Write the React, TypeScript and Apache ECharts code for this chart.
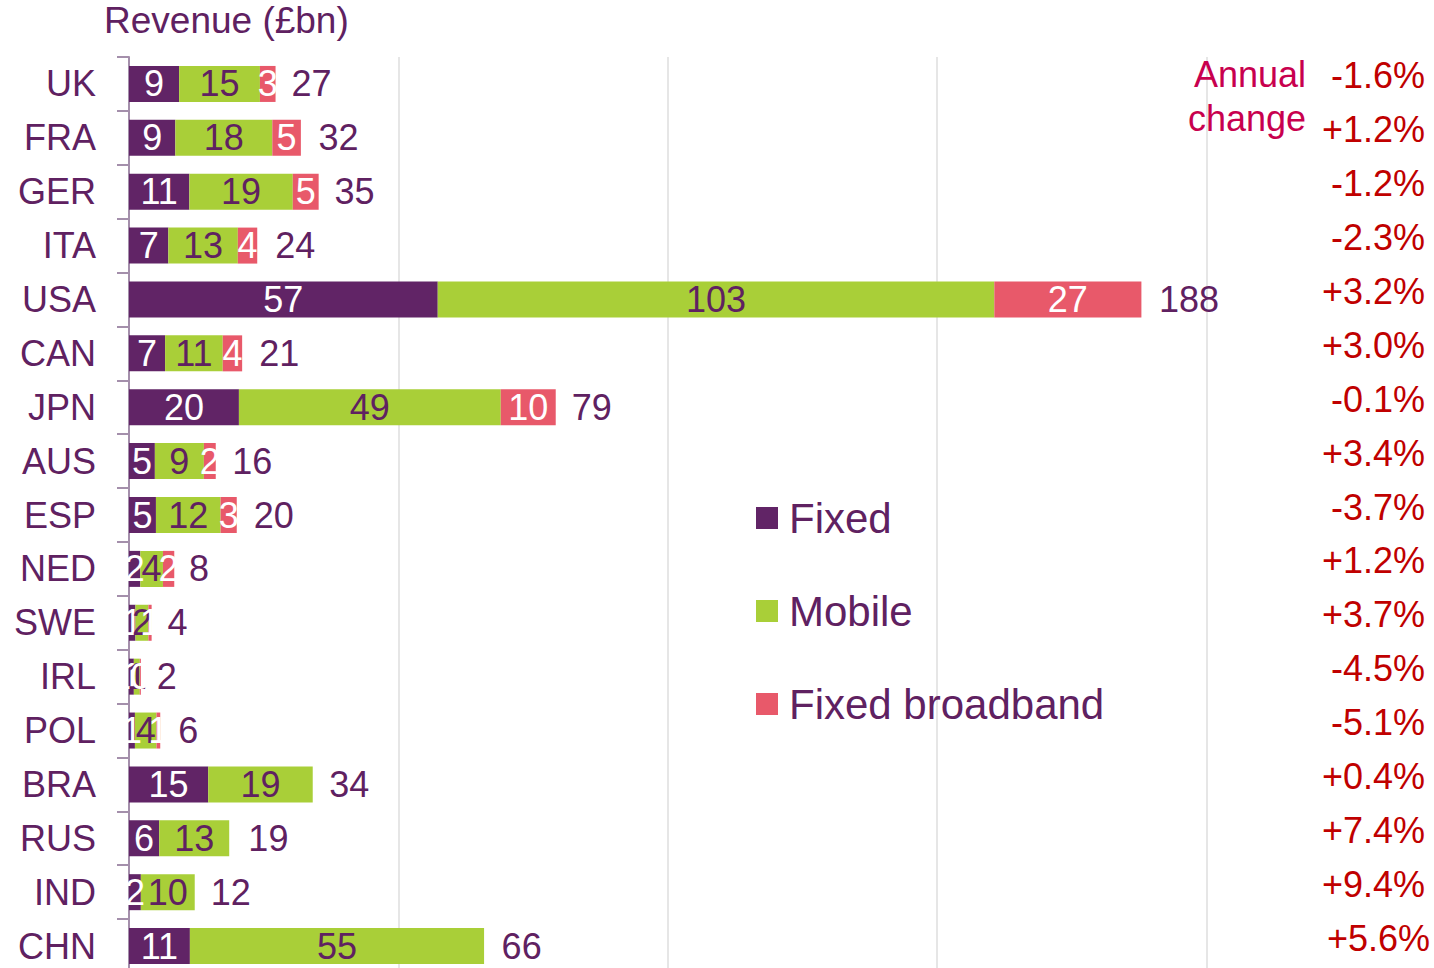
import React, { useEffect, useRef } from "react";
import * as echarts from "echarts";

const countries = ["UK", "FRA", "GER", "ITA", "USA", "CAN", "JPN", "AUS", "ESP", "NED", "SWE", "IRL", "POL", "BRA", "RUS", "IND", "CHN"];
const fixed = [9.3, 8.6, 11.2, 7.3, 57.3, 6.7, 20.4, 4.8, 5.0, 2.1, 1.2, 0.9, 1.1, 14.7, 5.6, 2.2, 11.3];
const mobile = [15.0, 18.0, 19.2, 12.9, 103.3, 10.7, 48.6, 9.1, 12.0, 4.2, 2.4, 1.1, 4.0, 19.4, 13.0, 10.0, 54.6];
const broadband = [2.9, 5.3, 4.8, 3.6, 27.3, 3.6, 10.2, 2.2, 3.0, 2.1, 0.6, 0.2, 0.7, 0, 0, 0, 0];
const totals = [27, 32, 35, 24, 188, 21, 79, 16, 20, 8, 4, 2, 6, 34, 19, 12, 66];
const annualChange = ["-1.6%", "+1.2%", "-1.2%", "-2.3%", "+3.2%", "+3.0%", "-0.1%", "+3.4%", "-3.7%", "+1.2%", "+3.7%", "-4.5%", "-5.1%", "+0.4%", "+7.4%", "+9.4%", "+5.6%"];

const FONT = "'Liberation Sans', Arial, sans-serif";
const PURPLE = "#612466";
const TEXT_PURPLE = "#5f2161";
const GREEN = "#a9cf38";
const CORAL = "#e8596a";
const RED = "#c00000";

export default function App() {
  const ref = useRef<HTMLDivElement>(null);
  useEffect(() => {
    document.body.style.margin = "0";
    const chart = echarts.init(ref.current!, null, { renderer: "svg" });
    const segLabel = (color: string) => ({
      show: true,
      position: "inside",
      fontSize: 36,
      fontFamily: FONT,
      color,
      formatter: (p: any) => (p.value ? String(Math.round(p.value)) : ""),
    });
    chart.setOption({
      animation: false,
      textStyle: { fontFamily: FONT },
      title: {
        text: "Revenue (£bn)",
        left: 99,
        top: -3,
        textStyle: { fontSize: 37, fontWeight: "normal", color: TEXT_PURPLE, fontFamily: FONT },
      },
      legend: {
        data: ["Fixed", "Mobile", "Fixed broadband"],
        orient: "vertical",
        left: 751,
        top: 492,
        itemWidth: 22,
        itemHeight: 22,
        itemGap: 51,
        icon: "rect",
        textStyle: { fontSize: 42, color: TEXT_PURPLE, fontFamily: FONT, lineHeight: 42, padding: [0, 0, 0, 6] },
      },
      grid: { left: 129, top: 57, width: 1347, height: 916, outerBoundsMode: "none", containLabel: false },
      xAxis: {
        type: "value",
        min: 0,
        max: 250,
        interval: 50,
        axisLabel: { show: false },
        axisLine: { show: false },
        axisTick: { show: false },
        splitLine: { show: true, lineStyle: { color: "#dedede", width: 1.5 } },
      },
      yAxis: [
        {
          type: "category",
          data: countries,
          inverse: true,
          axisLine: { show: true, lineStyle: { color: "#a48fab", width: 2 } },
          axisTick: { show: true, length: 12, lineStyle: { color: "#a48fab", width: 2 } },
          axisLabel: { fontSize: 36, color: TEXT_PURPLE, fontFamily: FONT, margin: 33 },
        },
      ],
      series: [
        {
          name: "Fixed",
          type: "bar",
          stack: "rev",
          data: fixed,
          barWidth: 36,
          barGap: "-100%",
          itemStyle: { color: PURPLE },
          label: segLabel("#ffffff"),
        },
        {
          name: "Mobile",
          type: "bar",
          stack: "rev",
          data: mobile,
          barWidth: 36,
          barGap: "-100%",
          itemStyle: { color: GREEN },
          label: segLabel(TEXT_PURPLE),
        },
        {
          name: "Fixed broadband",
          type: "bar",
          stack: "rev",
          data: broadband,
          barWidth: 36,
          barGap: "-100%",
          itemStyle: { color: CORAL },
          label: segLabel("#ffffff"),
        },
        {
          name: "Total",
          type: "bar",
          data: totals,
          barWidth: 36,
          barGap: "-100%",
          silent: true,
          z: 1,
          itemStyle: { color: "rgba(0,0,0,0)" },
          label: {
            show: true,
            position: "right",
            distance: 17,
            fontSize: 36,
            color: TEXT_PURPLE,
            fontFamily: FONT,
          },
        },
      ],
    });

    const graphics: any[] = [
      {
        type: "text",
        x: 1306,
        y: 52,
        style: {
          text: "Annual\nchange",
          font: `36px ${FONT}`,
          fill: "#c8004e",
          align: "right",
          verticalAlign: "top",
          lineHeight: 44,
        },
      },
    ];
    annualChange.forEach((txt, i) => {
      const y = chart.convertToPixel({ yAxisIndex: 0 }, i) as number;
      graphics.push({
        type: "text",
        x: i === annualChange.length - 1 ? 1430 : 1425,
        y: y - 8,
        style: {
          text: txt,
          font: `36px ${FONT}`,
          fill: RED,
          align: "right",
          verticalAlign: "middle",
        },
      });
    });
    chart.setOption({ graphic: graphics });
    return () => chart.dispose();
  }, []);
  return <div ref={ref} style={{ width: 1434, height: 968 }} />;
}
